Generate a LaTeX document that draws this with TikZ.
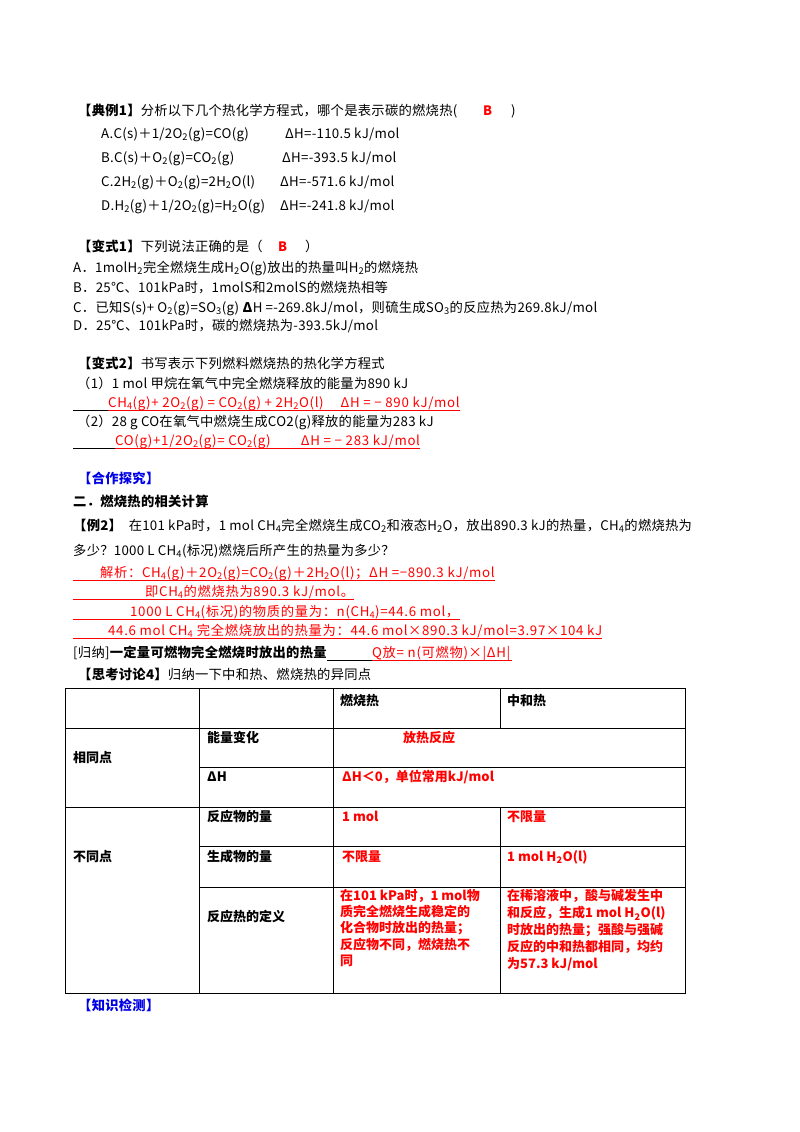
\documentclass[tikz,border=0pt]{standalone}
\usepackage{fontspec}
\setmainfont{Noto Sans CJK SC}
\usetikzlibrary{calc}
\newcommand{\dn}[1]{\textsubscript{#1}}
\definecolor{rd}{RGB}{255,0,0}
\definecolor{bl}{RGB}{0,0,230}
\begin{document}
\begin{tikzpicture}[x=1pt,y=-1pt,
  t/.style={anchor=base west,inner sep=0pt,font=\fontsize{13.3}{15}\selectfont\addfontfeature{LetterSpace=2}},
  r/.style={t,text=rd,font=\fontsize{13.3}{15}\selectfont\addfontfeature{LetterSpace=5}},
  tb/.style={anchor=base west,inner sep=0pt,font=\fontsize{13}{15}\selectfont\bfseries},
  tr/.style={tb,text=rd},
  ul/.style={rd,line width=0.7pt},
  grid/.style={line width=0.9pt}]
\useasboundingbox[fill=white] (0,0) rectangle (800,1132);
\coordinate (L) at (73,0);
% example 1
\node[t] (e1) at (78,115) {\textbf{【典例1】}分析以下几个热化学方程式，哪个是表示碳的燃烧热(};
\node[r,font=\fontsize{13}{14}\selectfont\bfseries] (e1b) at (483,115) {B};
\node[t] (e1c) at (511,115) {)};
\node[t] (a1) at (101,138) {A.C(s)＋1/2O\dn{2}(g)=CO(g)};
\node[t] (a2) at (285,138) {ΔH=-110.5 kJ/mol};
\node[t] (b1) at (101,162) {B.C(s)＋O\dn{2}(g)=CO\dn{2}(g)};
\node[t] (b2) at (282,162) {ΔH=-393.5 kJ/mol};
\node[t] (c1) at (101,186) {C.2H\dn{2}(g)＋O\dn{2}(g)=2H\dn{2}O(l)};
\node[t] (c2) at (280,186) {ΔH=-571.6 kJ/mol};
\node[t] (d1) at (101,210) {D.H\dn{2}(g)＋1/2O\dn{2}(g)=H\dn{2}O(g)};
\node[t] (d2) at (280,210) {ΔH=-241.8 kJ/mol};
% variant 1
\node[t] (v1) at (78,251) {\textbf{【变式1】}下列说法正确的是（};
\node[r,font=\fontsize{13}{14}\selectfont\bfseries] (v1b) at (278,251) {B};
\node[t] (v1c) at (305,251) {）};
\node[t] (v1a) at (73,272) {A．1molH\dn{2}完全燃烧生成H\dn{2}O(g)放出的热量叫H\dn{2}的燃烧热};
\node[t] (v1bb) at (73,292) {B．25℃、101kPa时，1molS和2molS的燃烧热相等};
\node[t] (v1cc) at (73,312) {C．已知S(s)+ O\dn{2}(g)=SO\dn{3}(g) \textbf{Δ}H =-269.8kJ/mol，则硫生成SO\dn{3}的反应热为269.8kJ/mol};
\node[t] (v1dd) at (73,330) {D．25℃、101kPa时，碳的燃烧热为-393.5kJ/mol};
% variant 2
\node[t] (v2) at (78,368) {\textbf{【变式2】}书写表示下列燃料燃烧热的热化学方程式};
\node[t] (v21) at (77,388) {（1）1 mol 甲烷在氧气中完全燃烧释放的能量为890 kJ};
\node[r] (v2a) at (108,407) {CH\dn{4}(g)+ 2O\dn{2}(g) = CO\dn{2}(g) + 2H\dn{2}O(l) \quad ΔH = − 890 kJ/mol};
\path (v2a.base west) ++(0,3) coordinate (u1s);
\path (v2a.base east) ++(0,3) coordinate (u1e);
\draw[line width=0.7pt] (L |- u1s) -- (u1s);
\draw[ul] (u1s) -- (u1e);
\node[t] (v22) at (77,426) {（2）28 g CO在氧气中燃烧生成CO2(g)释放的能量为283 kJ};
\node[r] (v2b) at (115,445) {CO(g)+1/2O\dn{2}(g)= CO\dn{2}(g) \qquad ΔH = − 283 kJ/mol};
\path (v2b.base west) ++(0,3) coordinate (u2s);
\path (v2b.base east) ++(0,3) coordinate (u2e);
\draw[line width=0.7pt] (L |- u2s) -- (u2s);
\draw[ul] (u2s) -- (u2e);
% cooperation
\node[t,text=bl] (hz) at (78,483) {\textbf{【合作探究】}};
\node[t] (s2) at (73,506) {\textbf{二．燃烧热的相关计算}};
\node[t] (ex2) at (73,530) {\textbf{【例2】}\ \ 在101 kPa时，1 mol CH\dn{4}完全燃烧生成CO\dn{2}和液态H\dn{2}O，放出890.3 kJ的热量，CH\dn{4}的燃烧热为};
\node[t] (ex2b) at (73,555) {多少？1000 L CH\dn{4}(标况)燃烧后所产生的热量为多少？};
\node[r] (j1) at (100,577) {解析：CH\dn{4}(g)＋2O\dn{2}(g)=CO\dn{2}(g)＋2H\dn{2}O(l)；ΔH =−890.3 kJ/mol};
\node[r] (j2) at (145,596) {即CH\dn{4}的燃烧热为890.3 kJ/mol。};
\node[r] (j3) at (130,616) {1000 L CH\dn{4}(标况)的物质的量为：n(CH\dn{4})=44.6 mol，};
\node[r] (j4) at (108,635) {44.6 mol CH\dn{4} 完全燃烧放出的热量为：44.6 mol×890.3 kJ/mol=3.97×104 kJ};
\foreach \n in {j1,j2,j3,j4}{
  \path (\n.base east) ++(0,3) coordinate (\n e);
  \draw[ul] (L |- \n e) -- (\n e);
}
\node[t] (gn) at (73,657) {[归纳]\textbf{一定量可燃物完全燃烧时放出的热量}};
\node[r] (gq) at (372,657) {Q放= n(可燃物)×|ΔH|};
\path (gn.base east) ++(0,3) coordinate (gne);
\path (gq.base west) ++(0,3) coordinate (gqs);
\path (gq.base east) ++(2,3) coordinate (gqe);
\draw[line width=0.7pt] (gne) -- (gqs);
\draw[ul] (gqs) -- (gqe);
\node[t] (sk) at (78,679) {\textbf{【思考讨论4】}归纳一下中和热、燃烧热的异同点};
% table
\draw[grid] (65,688) rectangle (685,993);
\draw[grid] (65,728) -- (685,728);
\draw[grid] (199,767) -- (685,767);
\draw[grid] (65,807) -- (685,807);
\draw[grid] (199,846) -- (685,846);
\draw[grid] (199,887) -- (685,887);
\draw[grid] (199,688) -- (199,993);
\draw[grid] (333,688) -- (333,993);
\draw[grid] (500,688) -- (500,728);
\draw[grid] (500,807) -- (500,993);
\node[tb] (h1) at (340,705) {燃烧热};
\node[tb] (h2) at (507,705) {中和热};
\node[tb] (same) at (73,762) {相同点};
\node[tb] (diff) at (73,861) {不同点};
\node[tb] (k1) at (207,742) {能量变化};
\node[tr] (k1v) at (403,742) {放热反应};
\node[tb] (k2) at (207,781) {ΔH};
\node[tr] (k2v) at (342,781) {ΔH＜0，单位常用kJ/mol};
\node[tb] (k3) at (207,821) {反应物的量};
\node[tr] (k3a) at (342,821) {1 mol};
\node[tr] (k3b) at (507,821) {不限量};
\node[tb] (k4) at (207,861) {生成物的量};
\node[tr] (k4a) at (342,861) {不限量};
\node[tr] (k4b) at (507,861) {1 mol H\dn{2}O(l)};
\node[tb] (k5) at (207,921) {反应热的定义};
\node[tb,text=rd,anchor=north west,align=left,font=\fontsize{13}{16.3}\selectfont\bfseries] (k5a) at (340,889)
  {在101 kPa时，1 mol物\\质完全燃烧生成稳定的\\化合物时放出的热量；\\反应物不同，燃烧热不\\同};
\node[tb,text=rd,anchor=north west,align=left,font=\fontsize{13}{17}\selectfont\bfseries] (k5b) at (507,889)
  {在稀溶液中，酸与碱发生中\\和反应，生成1 mol H\dn{2}O(l)\\时放出的热量；强酸与强碱\\反应的中和热都相同，均约\\为57.3 kJ/mol};
\node[t,text=bl] (zs) at (78,1010) {\textbf{【知识检测】}};
\end{tikzpicture}
\end{document}
